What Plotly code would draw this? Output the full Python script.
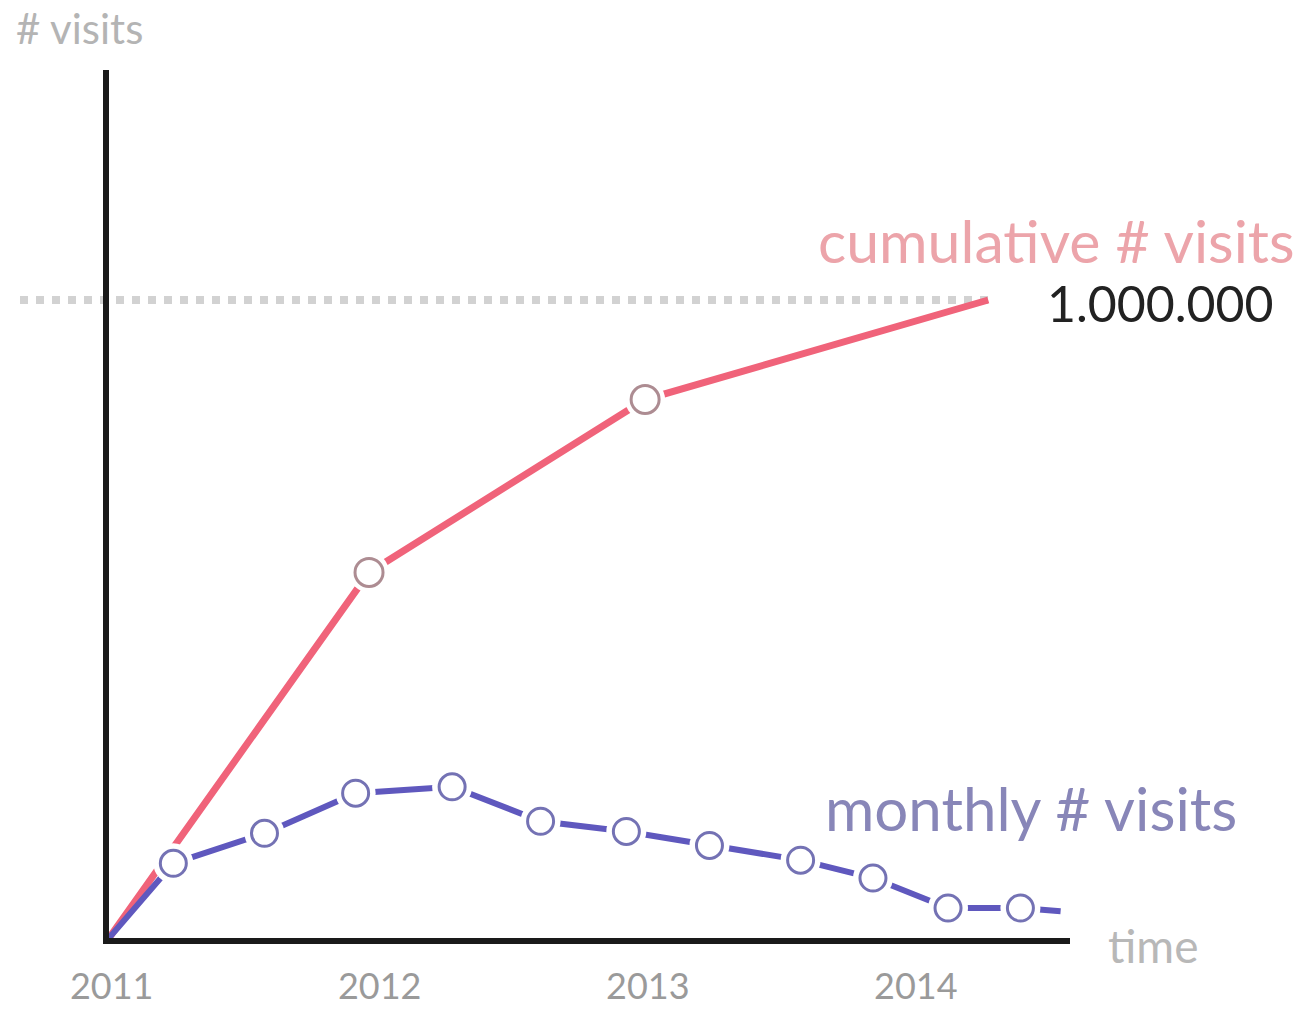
import plotly.graph_objects as go

# ---- data ----
years = [2011, 2012, 2013, 2014]
tick_labels = ["2011", "2012", "2013", "2014"]

cum_x = [2010.99, 2011.96, 2012.99, 2014.27]
cum_y = [0, 573000, 844000, 1000000]
cum_marker_x = [2011.96, 2012.99]
cum_marker_y = [573000, 844000]

mon_x = [2010.99, 2011.23, 2011.57, 2011.91, 2012.27, 2012.60, 2012.92,
         2013.23, 2013.57, 2013.84, 2014.12, 2014.39, 2014.54]
mon_y = [0, 117000, 164000, 227000, 237000, 183000, 167000,
         145000, 122000, 94000, 47000, 47000, 42000]
mon_marker_x = mon_x[1:-1]
mon_marker_y = mon_y[1:-1]

target_value = 1000000

PINK = "#f0637a"
BLUE = "#5f58be"
FONT = "Lato"

# layout geometry (pixels)
L, R, T, B = 109, 236, 70, 73
W, H = 1306, 1011
PW, PH = W - L - R, H - T - B


def px(x):
    return (x - L) / PW


def py(y):
    return (H - B - y) / PH


fig = go.Figure()

# cumulative line
fig.add_trace(go.Scatter(x=cum_x, y=cum_y, mode="lines",
                         line=dict(color=PINK, width=7), hoverinfo="skip"))
# monthly line
fig.add_trace(go.Scatter(x=mon_x, y=mon_y, mode="lines",
                         line=dict(color=BLUE, width=6), hoverinfo="skip"))
# white halos (gap around rings)
fig.add_trace(go.Scatter(x=mon_marker_x + cum_marker_x, y=mon_marker_y + cum_marker_y,
                         mode="markers",
                         marker=dict(size=40, color="white", line=dict(width=0)),
                         hoverinfo="skip"))
# rings
fig.add_trace(go.Scatter(x=mon_marker_x, y=mon_marker_y, mode="markers",
                         marker=dict(size=26, color="white",
                                     line=dict(color="#7472b4", width=3)),
                         hoverinfo="skip"))
fig.add_trace(go.Scatter(x=cum_marker_x, y=cum_marker_y, mode="markers",
                         marker=dict(size=28, color="white",
                                     line=dict(color="#ad8c92", width=3)),
                         hoverinfo="skip"))

# dotted 1,000,000 line
fig.add_shape(type="line", xref="paper", yref="y",
              x0=px(20), x1=px(990), y0=target_value, y1=target_value,
              line=dict(color="#d2d2d2", width=8, dash="dot"), layer="below")

annos = [
    dict(text="# visits", x=px(14), y=py(28), xanchor="left", yanchor="middle",
         font=dict(size=42, color="#b4b4b4", family=FONT)),
    dict(text="cumulative # visits", x=px(816), y=py(240),
         xanchor="left", yanchor="middle",
         font=dict(size=59, color="#eca4aa", family=FONT)),
    dict(text="1.000.000", x=px(1045), y=py(303),
         xanchor="left", yanchor="middle",
         font=dict(size=50, color="#222222", family=FONT)),
    dict(text="monthly # visits", x=px(823), y=py(808),
         xanchor="left", yanchor="middle",
         font=dict(size=60, color="#8886b8", family=FONT)),
    dict(text="time", x=px(1106), y=py(945),
         xanchor="left", yanchor="middle",
         font=dict(size=46, color="#b8b8b8", family=FONT)),
]
for a in annos:
    a.update(xref="paper", yref="paper", showarrow=False)
    fig.add_annotation(**a)

fig.update_layout(
    width=W, height=H,
    margin=dict(l=L, r=R, t=T, b=B, autoexpand=False),
    paper_bgcolor="white", plot_bgcolor="white",
    showlegend=False,
    xaxis=dict(range=[2010.99, 2014.575], tickvals=years, ticktext=tick_labels,
               showgrid=False, zeroline=False, showline=True,
               linecolor="#1a1a1a", linewidth=6, ticks="", automargin=False,
               tickfont=dict(size=36, color="#9a9a9a", family=FONT),
               ticklabelstandoff=12),
    yaxis=dict(range=[0, 1360500], showgrid=False, zeroline=False,
               showline=True, linecolor="#1a1a1a", linewidth=6,
               showticklabels=False, ticks="", automargin=False),
)

fig.write_html("out.html")
